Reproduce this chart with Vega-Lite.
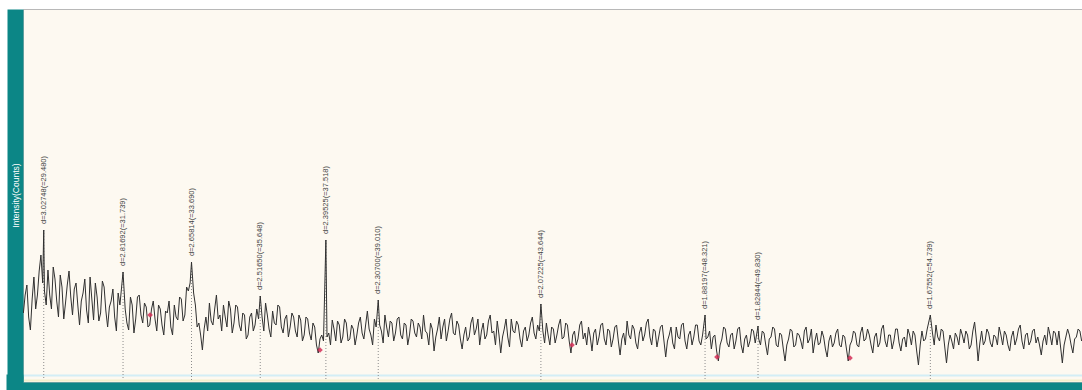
{
  "$schema": "https://vega.github.io/schema/vega-lite/v6.json",
  "width": 1059,
  "height": 373,
  "autosize": {"type": "none"},
  "padding": {"left": 23, "top": 9, "right": 0, "bottom": 8},
  "background": "#ffffff",
  "config": {
    "view": {"fill": "#fdf9f1", "stroke": "#b8b8b8", "strokeWidth": 1},
    "font": "Liberation Sans"
  },
  "datasets": {
    "scan": [
      {"tt":28.9,"i":62},{"tt":28.95,"i":80},{"tt":29.0,"i":90},{"tt":29.05,"i":58},{"tt":29.1,"i":45},{"tt":29.15,"i":76},{"tt":29.2,"i":98},{"tt":29.25,"i":66},{"tt":29.3,"i":80},{"tt":29.35,"i":104},{"tt":29.4,"i":120},{"tt":29.45,"i":92},{"tt":29.48,"i":145},{"tt":29.5,"i":84},{"tt":29.55,"i":70},{"tt":29.6,"i":105},{"tt":29.65,"i":80},{"tt":29.7,"i":66},{"tt":29.75,"i":108},{"tt":29.8,"i":96},{"tt":29.85,"i":74},{"tt":29.9,"i":58},{"tt":29.95,"i":100},
      {"tt":30.0,"i":88},{"tt":30.05,"i":56},{"tt":30.1,"i":72},{"tt":30.15,"i":90},{"tt":30.2,"i":104},{"tt":30.25,"i":78},{"tt":30.3,"i":60},{"tt":30.35,"i":86},{"tt":30.4,"i":92},{"tt":30.45,"i":70},{"tt":30.5,"i":50},{"tt":30.55,"i":74},{"tt":30.6,"i":82},{"tt":30.65,"i":96},{"tt":30.7,"i":65},{"tt":30.75,"i":52},{"tt":30.8,"i":98},{"tt":30.85,"i":76},{"tt":30.9,"i":55},{"tt":30.95,"i":92},
      {"tt":31.0,"i":78},{"tt":31.05,"i":54},{"tt":31.1,"i":62},{"tt":31.15,"i":94},{"tt":31.2,"i":88},{"tt":31.25,"i":64},{"tt":31.3,"i":48},{"tt":31.35,"i":68},{"tt":31.4,"i":74},{"tt":31.45,"i":86},{"tt":31.5,"i":58},{"tt":31.55,"i":44},{"tt":31.6,"i":82},{"tt":31.65,"i":70},{"tt":31.739,"i":103},{"tt":31.8,"i":66},{"tt":31.85,"i":52},{"tt":31.9,"i":45},{"tt":31.95,"i":78},
      {"tt":32.0,"i":70},{"tt":32.05,"i":42},{"tt":32.1,"i":56},{"tt":32.15,"i":78},{"tt":32.2,"i":80},{"tt":32.25,"i":60},{"tt":32.3,"i":52},{"tt":32.35,"i":72},{"tt":32.4,"i":68},{"tt":32.45,"i":48},{"tt":32.5,"i":50},{"tt":32.55,"i":66},{"tt":32.6,"i":74},{"tt":32.65,"i":56},{"tt":32.7,"i":44},{"tt":32.75,"i":70},{"tt":32.8,"i":66},{"tt":32.85,"i":50},{"tt":32.9,"i":40},{"tt":32.95,"i":64},
      {"tt":33.0,"i":62},{"tt":33.05,"i":74},{"tt":33.1,"i":48},{"tt":33.15,"i":40},{"tt":33.2,"i":70},{"tt":33.25,"i":58},{"tt":33.3,"i":55},{"tt":33.35,"i":78},{"tt":33.4,"i":76},{"tt":33.45,"i":54},{"tt":33.5,"i":60},{"tt":33.55,"i":88},{"tt":33.6,"i":84},{"tt":33.65,"i":92},{"tt":33.69,"i":113},{"tt":33.75,"i":82},{"tt":33.8,"i":70},{"tt":33.85,"i":48},{"tt":33.9,"i":52},{"tt":33.95,"i":40},
      {"tt":34.0,"i":25},{"tt":34.05,"i":46},{"tt":34.1,"i":58},{"tt":34.15,"i":44},{"tt":34.2,"i":72},{"tt":34.25,"i":54},{"tt":34.3,"i":50},{"tt":34.35,"i":66},{"tt":34.4,"i":80},{"tt":34.45,"i":56},{"tt":34.5,"i":60},{"tt":34.55,"i":44},{"tt":34.6,"i":70},{"tt":34.65,"i":58},{"tt":34.7,"i":48},{"tt":34.75,"i":74},{"tt":34.8,"i":66},{"tt":34.85,"i":42},{"tt":34.9,"i":52},{"tt":34.95,"i":70},
      {"tt":35.0,"i":68},{"tt":35.05,"i":50},{"tt":35.1,"i":44},{"tt":35.15,"i":62},{"tt":35.2,"i":60},{"tt":35.25,"i":36},{"tt":35.3,"i":40},{"tt":35.35,"i":58},{"tt":35.4,"i":62},{"tt":35.45,"i":44},{"tt":35.5,"i":50},{"tt":35.55,"i":66},{"tt":35.6,"i":56},{"tt":35.648,"i":79},{"tt":35.7,"i":58},{"tt":35.75,"i":44},{"tt":35.8,"i":72},{"tt":35.85,"i":60},{"tt":35.9,"i":46},{"tt":35.95,"i":38},
      {"tt":36.0,"i":64},{"tt":36.05,"i":52},{"tt":36.1,"i":50},{"tt":36.15,"i":70},{"tt":36.2,"i":68},{"tt":36.25,"i":48},{"tt":36.3,"i":42},{"tt":36.35,"i":56},{"tt":36.4,"i":60},{"tt":36.45,"i":38},{"tt":36.5,"i":48},{"tt":36.55,"i":62},{"tt":36.6,"i":58},{"tt":36.65,"i":44},{"tt":36.7,"i":38},{"tt":36.75,"i":60},{"tt":36.8,"i":55},{"tt":36.85,"i":34},{"tt":36.9,"i":40},{"tt":36.95,"i":58},
      {"tt":37.0,"i":56},{"tt":37.05,"i":42},{"tt":37.1,"i":35},{"tt":37.15,"i":52},{"tt":37.2,"i":48},{"tt":37.25,"i":30},{"tt":37.3,"i":22},{"tt":37.35,"i":36},{"tt":37.4,"i":40},{"tt":37.45,"i":34},{"tt":37.518,"i":135},{"tt":37.55,"i":38},{"tt":37.6,"i":42},{"tt":37.65,"i":30},{"tt":37.7,"i":55},{"tt":37.75,"i":46},{"tt":37.8,"i":34},{"tt":37.85,"i":54},{"tt":37.9,"i":50},{"tt":37.95,"i":32},
      {"tt":38.0,"i":38},{"tt":38.05,"i":56},{"tt":38.1,"i":52},{"tt":38.15,"i":34},{"tt":38.2,"i":36},{"tt":38.25,"i":50},{"tt":38.3,"i":46},{"tt":38.35,"i":30},{"tt":38.4,"i":40},{"tt":38.45,"i":52},{"tt":38.5,"i":58},{"tt":38.55,"i":42},{"tt":38.6,"i":36},{"tt":38.65,"i":50},{"tt":38.7,"i":64},{"tt":38.75,"i":46},{"tt":38.8,"i":40},{"tt":38.85,"i":30},{"tt":38.9,"i":56},{"tt":38.95,"i":48},
      {"tt":39.01,"i":75},{"tt":39.05,"i":50},{"tt":39.1,"i":44},{"tt":39.15,"i":32},{"tt":39.2,"i":60},{"tt":39.25,"i":48},{"tt":39.3,"i":38},{"tt":39.35,"i":54},{"tt":39.4,"i":52},{"tt":39.45,"i":34},{"tt":39.5,"i":42},{"tt":39.55,"i":56},{"tt":39.6,"i":58},{"tt":39.65,"i":40},{"tt":39.7,"i":36},{"tt":39.75,"i":52},{"tt":39.8,"i":50},{"tt":39.85,"i":30},{"tt":39.9,"i":40},{"tt":39.95,"i":56},
      {"tt":40.0,"i":54},{"tt":40.05,"i":42},{"tt":40.1,"i":38},{"tt":40.15,"i":52},{"tt":40.2,"i":48},{"tt":40.25,"i":36},{"tt":40.3,"i":60},{"tt":40.35,"i":44},{"tt":40.4,"i":42},{"tt":40.45,"i":30},{"tt":40.5,"i":52},{"tt":40.55,"i":46},{"tt":40.6,"i":24},{"tt":40.65,"i":38},{"tt":40.7,"i":46},{"tt":40.75,"i":58},{"tt":40.8,"i":36},{"tt":40.85,"i":48},{"tt":40.9,"i":56},{"tt":40.95,"i":34},
      {"tt":41.0,"i":44},{"tt":41.05,"i":56},{"tt":41.1,"i":62},{"tt":41.15,"i":42},{"tt":41.2,"i":40},{"tt":41.25,"i":54},{"tt":41.3,"i":50},{"tt":41.35,"i":36},{"tt":41.4,"i":26},{"tt":41.45,"i":40},{"tt":41.5,"i":48},{"tt":41.55,"i":34},{"tt":41.6,"i":38},{"tt":41.65,"i":52},{"tt":41.7,"i":58},{"tt":41.75,"i":40},{"tt":41.8,"i":46},{"tt":41.85,"i":56},{"tt":41.9,"i":30},{"tt":41.95,"i":44},
      {"tt":42.0,"i":52},{"tt":42.05,"i":36},{"tt":42.1,"i":40},{"tt":42.15,"i":54},{"tt":42.2,"i":60},{"tt":42.25,"i":42},{"tt":42.3,"i":44},{"tt":42.35,"i":30},{"tt":42.4,"i":54},{"tt":42.45,"i":40},{"tt":42.5,"i":22},{"tt":42.55,"i":38},{"tt":42.6,"i":46},{"tt":42.65,"i":56},{"tt":42.7,"i":38},{"tt":42.75,"i":28},{"tt":42.8,"i":56},{"tt":42.85,"i":44},{"tt":42.9,"i":42},{"tt":42.95,"i":54},
      {"tt":43.0,"i":50},{"tt":43.05,"i":36},{"tt":43.1,"i":28},{"tt":43.15,"i":44},{"tt":43.2,"i":48},{"tt":43.25,"i":34},{"tt":43.3,"i":40},{"tt":43.35,"i":52},{"tt":43.4,"i":58},{"tt":43.45,"i":42},{"tt":43.5,"i":36},{"tt":43.55,"i":50},{"tt":43.6,"i":44},{"tt":43.644,"i":71},{"tt":43.7,"i":44},{"tt":43.75,"i":32},{"tt":43.8,"i":52},{"tt":43.85,"i":40},{"tt":43.9,"i":30},{"tt":43.95,"i":48},
      {"tt":44.0,"i":46},{"tt":44.05,"i":32},{"tt":44.1,"i":40},{"tt":44.15,"i":50},{"tt":44.2,"i":56},{"tt":44.25,"i":36},{"tt":44.3,"i":38},{"tt":44.35,"i":52},{"tt":44.4,"i":50},{"tt":44.45,"i":34},{"tt":44.5,"i":22},{"tt":44.55,"i":40},{"tt":44.6,"i":44},{"tt":44.65,"i":30},{"tt":44.7,"i":36},{"tt":44.75,"i":50},{"tt":44.8,"i":54},{"tt":44.85,"i":36},{"tt":44.9,"i":42},{"tt":44.95,"i":30},
      {"tt":45.0,"i":48},{"tt":45.05,"i":38},{"tt":45.1,"i":24},{"tt":45.15,"i":42},{"tt":45.2,"i":46},{"tt":45.25,"i":30},{"tt":45.3,"i":38},{"tt":45.35,"i":50},{"tt":45.4,"i":52},{"tt":45.45,"i":36},{"tt":45.5,"i":30},{"tt":45.55,"i":46},{"tt":45.6,"i":44},{"tt":45.65,"i":28},{"tt":45.7,"i":36},{"tt":45.75,"i":48},{"tt":45.8,"i":50},{"tt":45.85,"i":34},{"tt":45.9,"i":20},{"tt":45.95,"i":36},
      {"tt":46.0,"i":42},{"tt":46.05,"i":30},{"tt":46.1,"i":54},{"tt":46.15,"i":40},{"tt":46.2,"i":36},{"tt":46.25,"i":50},{"tt":46.3,"i":46},{"tt":46.35,"i":32},{"tt":46.4,"i":26},{"tt":46.45,"i":42},{"tt":46.5,"i":48},{"tt":46.55,"i":34},{"tt":46.6,"i":40},{"tt":46.65,"i":52},{"tt":46.7,"i":56},{"tt":46.75,"i":38},{"tt":46.8,"i":30},{"tt":46.85,"i":46},{"tt":46.9,"i":44},{"tt":46.95,"i":28},
      {"tt":47.0,"i":38},{"tt":47.05,"i":48},{"tt":47.1,"i":50},{"tt":47.15,"i":34},{"tt":47.2,"i":18},{"tt":47.25,"i":34},{"tt":47.3,"i":40},{"tt":47.35,"i":48},{"tt":47.4,"i":32},{"tt":47.45,"i":26},{"tt":47.5,"i":48},{"tt":47.55,"i":38},{"tt":47.6,"i":36},{"tt":47.65,"i":50},{"tt":47.7,"i":52},{"tt":47.75,"i":34},{"tt":47.8,"i":26},{"tt":47.85,"i":40},{"tt":47.9,"i":44},{"tt":47.95,"i":30},
      {"tt":48.0,"i":38},{"tt":48.05,"i":50},{"tt":48.1,"i":50},{"tt":48.15,"i":34},{"tt":48.2,"i":30},{"tt":48.25,"i":40},{"tt":48.321,"i":60},{"tt":48.35,"i":36},{"tt":48.4,"i":38},{"tt":48.45,"i":44},{"tt":48.5,"i":26},{"tt":48.55,"i":38},{"tt":48.6,"i":40},{"tt":48.65,"i":24},{"tt":48.7,"i":14},{"tt":48.75,"i":30},{"tt":48.8,"i":36},{"tt":48.85,"i":48},{"tt":48.9,"i":46},{"tt":48.95,"i":32},
      {"tt":49.0,"i":28},{"tt":49.05,"i":40},{"tt":49.1,"i":42},{"tt":49.15,"i":26},{"tt":49.2,"i":34},{"tt":49.25,"i":46},{"tt":49.3,"i":48},{"tt":49.35,"i":30},{"tt":49.4,"i":22},{"tt":49.45,"i":36},{"tt":49.5,"i":40},{"tt":49.55,"i":28},{"tt":49.6,"i":34},{"tt":49.65,"i":46},{"tt":49.7,"i":44},{"tt":49.75,"i":32},{"tt":49.83,"i":49},{"tt":49.85,"i":36},{"tt":49.9,"i":30},{"tt":49.95,"i":44},
      {"tt":50.0,"i":42},{"tt":50.05,"i":30},{"tt":50.1,"i":20},{"tt":50.15,"i":36},{"tt":50.2,"i":38},{"tt":50.25,"i":48},{"tt":50.3,"i":46},{"tt":50.35,"i":30},{"tt":50.4,"i":28},{"tt":50.45,"i":42},{"tt":50.5,"i":40},{"tt":50.55,"i":26},{"tt":50.6,"i":14},{"tt":50.65,"i":30},{"tt":50.7,"i":36},{"tt":50.75,"i":46},{"tt":50.8,"i":44},{"tt":50.85,"i":28},{"tt":50.9,"i":30},{"tt":50.95,"i":42},
      {"tt":51.0,"i":40},{"tt":51.05,"i":34},{"tt":51.1,"i":26},{"tt":51.15,"i":44},{"tt":51.2,"i":48},{"tt":51.25,"i":32},{"tt":51.3,"i":36},{"tt":51.35,"i":46},{"tt":51.4,"i":22},{"tt":51.45,"i":34},{"tt":51.5,"i":42},{"tt":51.55,"i":30},{"tt":51.6,"i":32},{"tt":51.65,"i":44},{"tt":51.7,"i":38},{"tt":51.75,"i":26},{"tt":51.8,"i":18},{"tt":51.85,"i":34},{"tt":51.9,"i":40},{"tt":51.95,"i":28},
      {"tt":52.0,"i":32},{"tt":52.05,"i":42},{"tt":52.1,"i":46},{"tt":52.15,"i":30},{"tt":52.2,"i":28},{"tt":52.25,"i":40},{"tt":52.3,"i":38},{"tt":52.35,"i":26},{"tt":52.4,"i":14},{"tt":52.45,"i":30},{"tt":52.5,"i":34},{"tt":52.55,"i":44},{"tt":52.6,"i":42},{"tt":52.65,"i":30},{"tt":52.7,"i":28},{"tt":52.75,"i":42},{"tt":52.8,"i":48},{"tt":52.85,"i":34},{"tt":52.9,"i":36},{"tt":52.95,"i":46},
      {"tt":53.0,"i":40},{"tt":53.05,"i":30},{"tt":53.1,"i":22},{"tt":53.15,"i":38},{"tt":53.2,"i":42},{"tt":53.25,"i":28},{"tt":53.3,"i":32},{"tt":53.35,"i":46},{"tt":53.4,"i":50},{"tt":53.45,"i":34},{"tt":53.5,"i":28},{"tt":53.55,"i":40},{"tt":53.6,"i":40},{"tt":53.65,"i":26},{"tt":53.7,"i":34},{"tt":53.75,"i":46},{"tt":53.8,"i":46},{"tt":53.85,"i":32},{"tt":53.9,"i":24},{"tt":53.95,"i":36},
      {"tt":54.0,"i":38},{"tt":54.05,"i":28},{"tt":54.1,"i":46},{"tt":54.15,"i":40},{"tt":54.2,"i":30},{"tt":54.25,"i":44},{"tt":54.3,"i":40},{"tt":54.35,"i":24},{"tt":54.4,"i":10},{"tt":54.45,"i":30},{"tt":54.5,"i":44},{"tt":54.55,"i":34},{"tt":54.6,"i":36},{"tt":54.65,"i":46},{"tt":54.739,"i":60},{"tt":54.8,"i":42},{"tt":54.85,"i":30},{"tt":54.9,"i":50},{"tt":54.95,"i":38},
      {"tt":55.0,"i":34},{"tt":55.05,"i":46},{"tt":55.1,"i":44},{"tt":55.15,"i":28},{"tt":55.2,"i":12},{"tt":55.25,"i":30},{"tt":55.3,"i":40},{"tt":55.35,"i":34},{"tt":55.4,"i":26},{"tt":55.45,"i":42},{"tt":55.5,"i":38},{"tt":55.55,"i":30},{"tt":55.6,"i":46},{"tt":55.65,"i":40},{"tt":55.7,"i":32},{"tt":55.75,"i":44},{"tt":55.8,"i":40},{"tt":55.85,"i":26},{"tt":55.9,"i":30},{"tt":55.95,"i":44},
      {"tt":56.0,"i":53},{"tt":56.05,"i":36},{"tt":56.1,"i":14},{"tt":56.15,"i":32},{"tt":56.2,"i":44},{"tt":56.25,"i":30},{"tt":56.3,"i":34},{"tt":56.35,"i":46},{"tt":56.4,"i":42},{"tt":56.45,"i":32},{"tt":56.5,"i":28},{"tt":56.55,"i":40},{"tt":56.6,"i":38},{"tt":56.65,"i":30},{"tt":56.7,"i":48},{"tt":56.75,"i":40},{"tt":56.8,"i":30},{"tt":56.85,"i":44},{"tt":56.9,"i":40},{"tt":56.95,"i":30},
      {"tt":57.0,"i":24},{"tt":57.05,"i":38},{"tt":57.1,"i":44},{"tt":57.15,"i":30},{"tt":57.2,"i":36},{"tt":57.25,"i":46},{"tt":57.3,"i":50},{"tt":57.35,"i":34},{"tt":57.4,"i":26},{"tt":57.45,"i":40},{"tt":57.5,"i":42},{"tt":57.55,"i":30},{"tt":57.6,"i":34},{"tt":57.65,"i":44},{"tt":57.7,"i":46},{"tt":57.75,"i":32},{"tt":57.8,"i":38},{"tt":57.85,"i":30},{"tt":57.9,"i":20},{"tt":57.95,"i":34},
      {"tt":58.0,"i":40},{"tt":58.05,"i":30},{"tt":58.1,"i":48},{"tt":58.15,"i":40},{"tt":58.2,"i":30},{"tt":58.25,"i":44},{"tt":58.3,"i":42},{"tt":58.35,"i":30},{"tt":58.4,"i":44},{"tt":58.45,"i":28},{"tt":58.5,"i":12},{"tt":58.55,"i":30},{"tt":58.6,"i":38},{"tt":58.65,"i":46},{"tt":58.7,"i":40},{"tt":58.75,"i":30},{"tt":58.8,"i":22},{"tt":58.85,"i":36},{"tt":58.9,"i":38},{"tt":58.95,"i":46},
      {"tt":59.0,"i":44},{"tt":59.05,"i":34},{"tt":59.1,"i":36}
    ],
    "peaks": [
      {"tt":29.48,"i":145,"label":"d=3.02748(=29.480)"},
      {"tt":31.739,"i":103,"label":"d=2.81692(=31.739)"},
      {"tt":33.69,"i":113,"label":"d=2.65814(=33.690)"},
      {"tt":35.648,"i":79,"label":"d=2.51650(=35.648)"},
      {"tt":37.518,"i":135,"label":"d=2.39525(=37.518)"},
      {"tt":39.01,"i":75,"label":"d=2.30700(=39.010)"},
      {"tt":43.644,"i":71,"label":"d=2.07225(=43.644)"},
      {"tt":48.321,"i":60,"label":"d=1.88197(=48.321)"},
      {"tt":49.83,"i":49,"label":"d=1.82844(=49.830)"},
      {"tt":54.739,"i":60,"label":"d=1.67552(=54.739)"}
    ],
    "background_points": [
      {"tt":32.51,"i":60},
      {"tt":37.35,"i":25},
      {"tt":44.53,"i":30},
      {"tt":48.66,"i":18},
      {"tt":52.45,"i":17}
    ]
  },
  "encoding": {
    "x": {
      "field": "tt",
      "type": "quantitative",
      "scale": {"domain": [28.889, 59.06], "nice": false, "zero": false},
      "axis": {
        "title": null,
        "values": [29,30,31,32,33,34,35,36,37,38,39,40,41,42,43,44,45,46,47,48,49,50,51,52,53,54,55,56,57,58,59],
        "offset": 4,
        "domainColor": "#0c8686",
        "domainWidth": 8,
        "domainCap": "square",
        "tickColor": "#e8f6f6",
        "tickSize": 3,
        "labelColor": "#ffffff",
        "labelFontSize": 7,
        "labelPadding": -7,
        "labelExpr": "datum.value % 5 == 0 ? datum.label : ''",
        "grid": false
      }
    },
    "y": {
      "field": "i",
      "type": "quantitative",
      "scale": {"domain": [-7, 366], "nice": false, "zero": false},
      "axis": {
        "title": "Intensity(Counts)",
        "titleColor": "#ffffff",
        "titleFontSize": 8.5,
        "titleFontWeight": "normal",
        "titleAngle": 270,
        "titleAlign": "center",
        "titleBaseline": "middle",
        "titleX": 0,
        "titleY": 186,
        "labels": false,
        "values": [-7, -5, 0],
        "offset": 8,
        "domainColor": "#0c8686",
        "domainWidth": 16,
        "tickColor": {"condition": {"test": "datum.value < -6", "value": "#0c8686"}, "value": "transparent"},
        "tickWidth": 16,
        "tickSize": 1,
        "tickCap": "square",
        "grid": true,
        "gridColor": {"condition": [
          {"test": "datum.value == 0", "value": "#d3eef6"},
          {"test": "datum.value == -5", "value": "#f3efcc"}
        ], "value": "transparent"},
        "gridWidth": 2
      }
    }
  },
  "layer": [
    {
      "data": {"name": "peaks"},
      "mark": {"type": "rule", "color": "#8c8c8c", "strokeWidth": 1, "strokeDash": [1, 2]},
      "encoding": {"y2": {"datum": -5}}
    },
    {
      "data": {"name": "scan"},
      "mark": {"type": "line", "color": "#303030", "strokeWidth": 1, "clip": true}
    },
    {
      "data": {"name": "background_points"},
      "mark": {"type": "point", "shape": "diamond", "filled": true, "color": "#d42f57", "size": 32, "opacity": 0.85}
    },
    {
      "data": {"name": "peaks"},
      "mark": {"type": "text", "angle": 270, "align": "left", "baseline": "middle", "dx": 6, "fontSize": 7.5, "color": "#444444"},
      "encoding": {"text": {"field": "label"}}
    }
  ]
}
